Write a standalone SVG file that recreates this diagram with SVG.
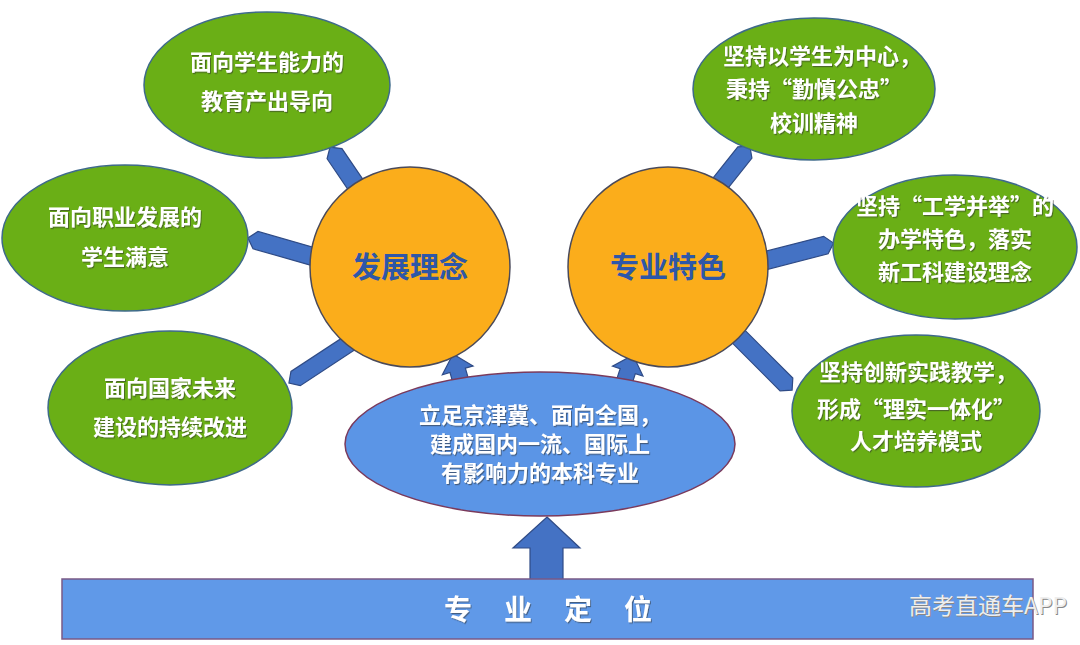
<svg xmlns="http://www.w3.org/2000/svg" width="1080" height="645" viewBox="0 0 1080 645">
<defs>
<style>
.arw{fill:#4472C4;stroke:#2F4B86;stroke-width:1.2;stroke-linejoin:miter}
.grn{fill:#6AAF16;stroke:#3E6A8A;stroke-width:1.5}
.org{fill:#FBAD1B;stroke:#4A4A5A;stroke-width:1.5}
.gt{font-family:"Noto Sans CJK SC","Noto Sans",sans-serif;font-weight:bold;font-size:22px;fill:#ffffff;text-anchor:middle;filter:url(#sh)}
.ot{font-family:"Noto Sans CJK SC","Noto Sans",sans-serif;font-weight:bold;font-size:29px;fill:#2E57A8;text-anchor:middle}
.bt{font-family:"Noto Sans CJK SC","Noto Sans",sans-serif;font-weight:bold;font-size:22px;fill:#ffffff;text-anchor:middle;filter:url(#sh)}
</style>
<filter id="sh" x="-10%" y="-10%" width="120%" height="130%">
<feDropShadow dx="1" dy="1.2" stdDeviation="0.6" flood-color="#333" flood-opacity="0.55"/>
</filter>
</defs>
<rect width="1080" height="645" fill="#ffffff"/>
<g id="connectors">
<path class="arw" transform="translate(366,200) rotate(-124.2)" d="M0,-9 H56 L64,0 L56,9 H0 Z"/>
<path class="arw" transform="translate(318,258) rotate(-164)" d="M0,-9 H65 L73,0 L65,9 H0 Z"/>
<path class="arw" transform="translate(365,333) rotate(146.7)" d="M0,-8.5 H83 L91,0 L83,8.5 H0 Z"/>
<path class="arw" transform="translate(715,190) rotate(-51.5)" d="M0,-9 H48 L56,0 L48,9 H0 Z"/>
<path class="arw" transform="translate(760,262) rotate(-14.4)" d="M0,-9 H68 L76,0 L68,9 H0 Z"/>
<path class="arw" transform="translate(732,330) rotate(45)" d="M0,-9 H77 L85,0 L77,9 H0 Z"/>
<path class="arw" transform="translate(453,354) rotate(-16)" d="M0,0 L16,17 H8 V30 H-8 V17 H-16 Z"/>
<path class="arw" transform="translate(633,355) rotate(18)" d="M0,0 L16,17 H8 V30 H-8 V17 H-16 Z"/>
<polygon class="arw" points="547,517 580,548 563,548 563,580 530,580 530,548 513,548"/>
</g>
<g id="bar">
<rect x="62" y="579" width="971" height="60" fill="#6099E8" stroke="#7A5A86" stroke-width="1.5"/>
<text x="564" y="620" font-family="'Noto Sans CJK SC','Noto Sans',sans-serif" font-weight="bold" font-size="28" fill="#ffffff" text-anchor="middle" letter-spacing="32" filter="url(#sh)">专业定位</text>
</g>
<g id="center">
<ellipse cx="540" cy="444" rx="195" ry="72" fill="#5B95E6" stroke="#7A3A5C" stroke-width="1.5"/>
<text class="bt" x="540" y="423">立足京津冀、面向全国，</text>
<text class="bt" x="540" y="452">建成国内一流、国际上</text>
<text class="bt" x="540" y="481">有影响力的本科专业</text>
</g>
<g id="idea">
<circle class="org" cx="410" cy="267" r="100"/>
<text class="ot" x="410" y="278">发展理念</text>
</g>
<g id="feature">
<circle class="org" cx="668" cy="267" r="100"/>
<text class="ot" x="668" y="278">专业特色</text>
</g>
<g id="g1">
<ellipse class="grn" cx="267" cy="85" rx="123" ry="73"/>
<text class="gt" x="267" y="70">面向学生能力的</text>
<text class="gt" x="267" y="109">教育产出导向</text>
</g>
<g id="g2">
<ellipse class="grn" cx="125" cy="238" rx="123" ry="73"/>
<text class="gt" x="125" y="225">面向职业发展的</text>
<text class="gt" x="125" y="265">学生满意</text>
</g>
<g id="g3">
<ellipse class="grn" cx="170" cy="408" rx="122" ry="77"/>
<text class="gt" x="170" y="396">面向国家未来</text>
<text class="gt" x="170" y="435">建设的持续改进</text>
</g>
<g id="g4">
<ellipse class="grn" cx="814" cy="89" rx="121" ry="71"/>
<text class="gt" x="822" y="64">坚持以学生为中心，</text>
<text class="gt" x="814" y="97">秉持“勤慎公忠”</text>
<text class="gt" x="814" y="131">校训精神</text>
</g>
<g id="g5">
<ellipse class="grn" cx="955" cy="247" rx="122" ry="72"/>
<text class="gt" x="955" y="214">坚持“工学并举”的</text>
<text class="gt" x="955" y="247">办学特色，落实</text>
<text class="gt" x="955" y="280">新工科建设理念</text>
</g>
<g id="g6">
<ellipse class="grn" cx="916" cy="411" rx="124" ry="76"/>
<text class="gt" x="918" y="380">坚持创新实践教学，</text>
<text class="gt" x="916" y="417">形成“理实一体化”</text>
<text class="gt" x="916" y="449">人才培养模式</text>
</g>
<g id="watermark">
<text x="989" y="615" font-family="'Noto Sans CJK SC','Noto Sans',sans-serif" font-size="23" fill="#888888" text-anchor="middle">高考直通车APP</text>
<text x="988" y="614" font-family="'Noto Sans CJK SC','Noto Sans',sans-serif" font-size="23" fill="#eeeeee" text-anchor="middle">高考直通车APP</text>
</g>
</svg>
